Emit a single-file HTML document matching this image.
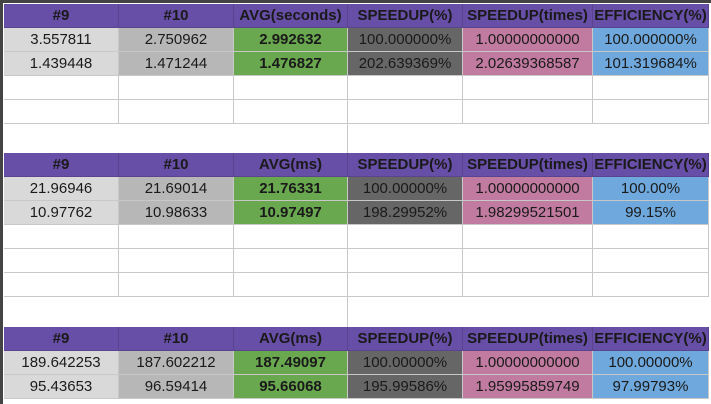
<!DOCTYPE html>
<html><head><meta charset="utf-8"><style>
body{margin:0;width:711px;height:404px;background:#fff;position:relative;overflow:hidden;font-family:"Liberation Sans",sans-serif;}
#frame{position:absolute;left:0;top:0;width:711px;height:404px;border-left:3px solid #444;border-top:3px solid #444;box-sizing:border-box;}
.c{position:absolute;box-sizing:border-box;border-right:1px solid #c8c8c8;border-bottom:1px solid #c8c8c8;font-size:15px;color:#1a1a1a;text-align:center;line-height:23px;white-space:nowrap;overflow:hidden;}
.h{background:#674ea7;font-weight:bold;border-color:#5a4490;}
.b{font-weight:bold;}
</style></head><body>
<div id="frame"></div>
<div id="grid"></div>
<script>
const colEdges=[4,119,234,348,463,593,709];
const bgs=['#d9d9d9','#b7b7b7','#6aa84f','#666666','#c27ba0','#6fa8dc'];
const blocks=[
 {top:4,head:['#9','#10','AVG(seconds)','SPEEDUP(%)','SPEEDUP(times)','EFFICIENCY(%)'],
  rows:[['3.557811','2.750962','2.992632','100.000000%','1.00000000000','100.000000%'],
        ['1.439448','1.471244','1.476827','202.639369%','2.02639368587','101.319684%']],empty:2},
 {top:153,head:['#9','#10','AVG(ms)','SPEEDUP(%)','SPEEDUP(times)','EFFICIENCY(%)'],
  rows:[['21.96946','21.69014','21.76331','100.00000%','1.00000000000','100.00%'],
        ['10.97762','10.98633','10.97497','198.29952%','1.98299521501','99.15%']],empty:3},
 {top:327,head:['#9','#10','AVG(ms)','SPEEDUP(%)','SPEEDUP(times)','EFFICIENCY(%)'],
  rows:[['189.642253','187.602212','187.49097','100.00000%','1.00000000000','100.00000%'],
        ['95.43653','96.59414','95.66068','195.99586%','1.95995859749','97.99793%']],empty:0}
];
const g=document.getElementById('grid');
function cell(x,y,w,h,txt,cls,bg,name){
 const d=document.createElement('div');
 d.className='c '+cls;
 d.style.left=x+'px';d.style.top=y+'px';d.style.width=w+'px';d.style.height=h+'px';
 if(bg)d.style.background=bg;
 d.textContent=txt;
 
 
 g.appendChild(d);
}
blocks.forEach((bl,bi)=>{
 let y=bl.top;
 for(let c=0;c<6;c++)cell(colEdges[c],y,colEdges[c+1]-colEdges[c],24,bl.head[c],'h',null,'header-cell');
 y+=24;
 bl.rows.forEach(r=>{
  for(let c=0;c<6;c++)cell(colEdges[c],y,colEdges[c+1]-colEdges[c],24,r[c],c==2?'b':'',bgs[c],'data-cell');
  y+=24;
 });
 for(let e=0;e<bl.empty;e++){
  for(let c=0;c<6;c++)cell(colEdges[c],y,colEdges[c+1]-colEdges[c],24,'','',null,'empty-cell');
  y+=24;
 }
 if(bi<2){
  const v=document.createElement('div');
  v.style.cssText='position:absolute;left:347px;top:'+y+'px;width:1px;height:30px;background:#c8c8c8;';
  
  
  g.appendChild(v);
 }
});
</script>
</body></html>
